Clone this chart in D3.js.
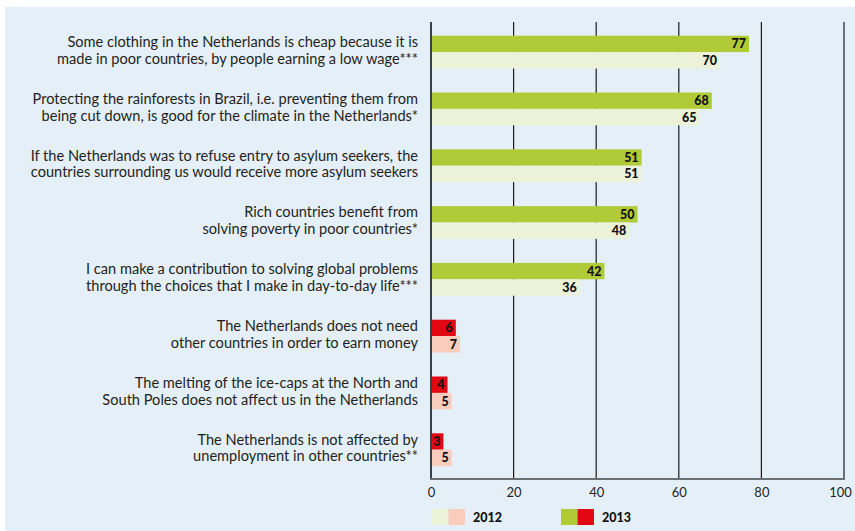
<!DOCTYPE html>
<html>
<head>
<meta charset="utf-8">
<script src="https://cdn.jsdelivr.net/npm/d3@7"></script>
<style>
  html, body { margin: 0; padding: 0; background: #ffffff; }
  svg { display: block; }
  text { font-family: Lato, "Open Sans", sans-serif; }
</style>
</head>
<body>
<svg id="chart" width="855" height="531"></svg>
<script>
// Statements (two lines each), shares agreeing in 2012 and 2013 (%)
const statements = [
  ["Some clothing in the Netherlands is cheap because it is", "made in poor countries, by people earning a low wage***"],
  ["Protecting the rainforests in Brazil, i.e. preventing them from", "being cut down, is good for the climate in the Netherlands*"],
  ["If the Netherlands was to refuse entry to asylum seekers, the", "countries surrounding us would receive more asylum seekers"],
  ["Rich countries benefit from", "solving poverty in poor countries*"],
  ["I can make a contribution to solving global problems", "through the choices that I make in day-to-day life***"],
  ["The Netherlands does not need", "other countries in order to earn money"],
  ["The melting of the ice-caps at the North and", "South Poles does not affect us in the Netherlands"],
  ["The Netherlands is not affected by", "unemployment in other countries**"]
];
const values2013 = [77, 68, 51, 50, 42, 6, 4, 3];
const values2012 = [70, 65, 51, 48, 36, 7, 5, 5];
const tickValues = [0, 20, 40, 60, 80, 100];
const legendLabels = ["2012", "2013"];
// statements with a positive framing are green, negative framing red
const framing = ["pos", "pos", "pos", "pos", "pos", "neg", "neg", "neg"];

const colors = {
  pos: { y2013: "#b1cb38", y2012: "#ebf2d7" },
  neg: { y2013: "#e30613", y2012: "#f9ccbb" }
};

const svg = d3.select("#chart");
const W = 855, H = 531;

// panel background
svg.append("rect").attr("x", 5).attr("y", 7).attr("width", W - 5).attr("height", H - 7)
  .attr("fill", "#e5eff8");

const x = d3.scaleLinear().domain([0, 100]).range([431, 844]);
// group index -> top of the group's pair of bars
const y = d3.scaleLinear().domain([0, statements.length]).range([35.7, 35.7 + 56.8 * statements.length]);
const barH = 16.4;

const plotTop = 22, plotBottom = 479;

// vertical gridlines
svg.append("g").selectAll("line").data(tickValues.filter(t => t > 0 && t < 100)).join("line")
  .attr("x1", d => x(d)).attr("x2", d => x(d))
  .attr("y1", plotTop).attr("y2", plotBottom)
  .attr("stroke", "#1a1a1a").attr("stroke-width", 1.2);

// right frame line
svg.append("line").attr("x1", x(100)).attr("x2", x(100)).attr("y1", plotTop).attr("y2", plotBottom)
  .attr("stroke", "#6b6f73").attr("stroke-width", 2);

// bars
const groups = svg.append("g").selectAll("g").data(statements).join("g")
  .attr("transform", (d, i) => `translate(0,${y(i)})`);

groups.append("rect").attr("x", x(0)).attr("y", 0)
  .attr("width", (d, i) => x(values2013[i]) - x(0)).attr("height", barH)
  .attr("fill", (d, i) => colors[framing[i]].y2013);
groups.append("rect").attr("x", x(0)).attr("y", barH)
  .attr("width", (d, i) => x(values2012[i]) - x(0)).attr("height", barH)
  .attr("fill", (d, i) => colors[framing[i]].y2012);

// value labels
groups.append("text").attr("x", (d, i) => x(values2013[i]) - 3).attr("y", barH / 2 + 4.5)
  .attr("text-anchor", "end").attr("font-size", 12.5).attr("font-weight", 900).attr("fill", "#111")
  .text((d, i) => values2013[i]);
groups.append("text").attr("x", (d, i) => x(values2012[i]) - 3).attr("y", barH * 1.5 + 4.5)
  .attr("text-anchor", "end").attr("font-size", 12.5).attr("font-weight", 900).attr("fill", "#111")
  .text((d, i) => values2012[i]);

// statement labels
groups.append("text").attr("x", 418).attr("y", 11.3)
  .attr("text-anchor", "end").attr("font-size", 14.6).attr("fill", "#231f20")
  .text(d => d[0]);
groups.append("text").attr("x", 418).attr("y", 28.2)
  .attr("text-anchor", "end").attr("font-size", 14.6).attr("fill", "#231f20")
  .text(d => d[1]);

// left and bottom axis lines
svg.append("line").attr("x1", x(0)).attr("x2", x(0)).attr("y1", plotTop).attr("y2", plotBottom)
  .attr("stroke", "#3d4145").attr("stroke-width", 2);
svg.append("line").attr("x1", x(0) - 1).attr("x2", x(100) + 1).attr("y1", plotBottom).attr("y2", plotBottom)
  .attr("stroke", "#6b6f73").attr("stroke-width", 2);

// tick labels
const axis = d3.axisBottom(x).tickValues(tickValues).tickSize(0).tickPadding(0);
const ax = svg.append("g").attr("transform", `translate(0,${plotBottom + 18})`).call(axis);
ax.select(".domain").remove();
ax.selectAll("text").attr("font-size", 13).attr("fill", "#231f20")
  .attr("font-family", "Lato, sans-serif").attr("dy", 0).attr("y", 0)
  .attr("dx", d => d === 100 ? -4 : 0);

// legend
const legend = [
  { label: legendLabels[0], c: [colors.pos.y2012, colors.neg.y2012], x: 432 },
  { label: legendLabels[1], c: [colors.pos.y2013, colors.neg.y2013], x: 561 }
];
const lg = svg.append("g").selectAll("g").data(legend).join("g")
  .attr("transform", d => `translate(${d.x},509)`);
lg.append("rect").attr("x", 0).attr("y", 0).attr("width", 16.5).attr("height", 16).attr("fill", d => d.c[0]);
lg.append("rect").attr("x", 16.5).attr("y", 0).attr("width", 16.5).attr("height", 16).attr("fill", d => d.c[1]);
lg.append("text").attr("x", 41).attr("y", 12.5).attr("font-size", 12.5).attr("font-weight", 900)
  .attr("fill", "#111").text(d => d.label);
</script>
</body>
</html>
